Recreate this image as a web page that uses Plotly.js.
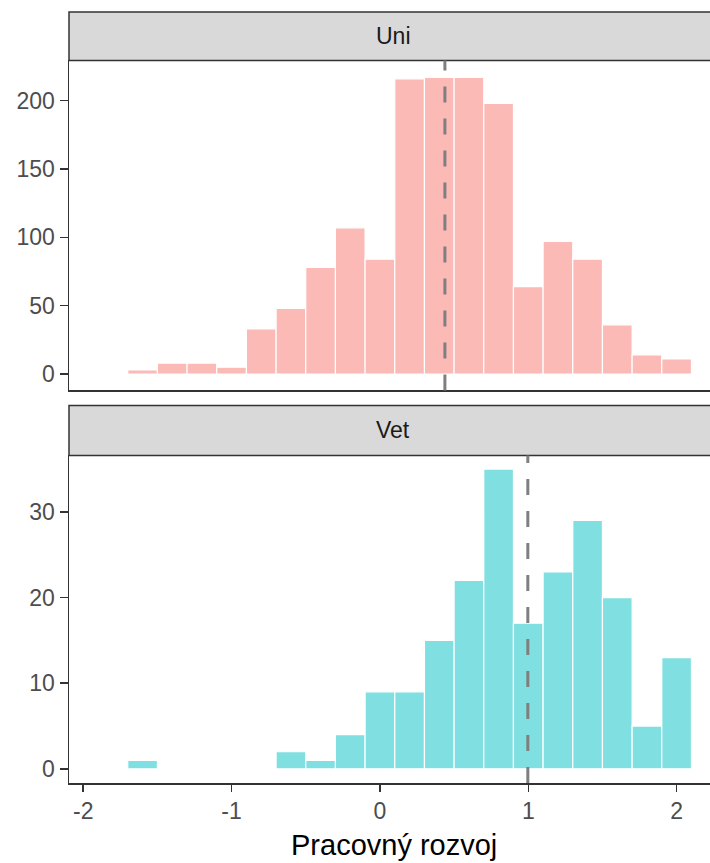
<!DOCTYPE html>
<html>
<head>
<meta charset="utf-8">
<script src="https://cdn.plot.ly/plotly-3.0.1.min.js"></script>
<style>html,body{margin:0;padding:0;background:#fff;overflow:hidden;}</style>
</head>
<body>
<div id="chart" style="width:710px;height:863px;"></div>
<script>
// Bin centres (bin width 0.2)
const binCenters = [-1.6, -1.4, -1.2, -1.0, -0.8, -0.6, -0.4, -0.2, 0.0, 0.2, 0.4, 0.6, 0.8, 1.0, 1.2, 1.4, 1.6, 1.8, 2.0];
const uniCounts = [3, 8, 8, 5, 33, 48, 78, 107, 84, 216, 217, 217, 198, 64, 97, 84, 36, 14, 11];
const vetCounts = [1, 0, 0, 0, 0, 2, 1, 4, 9, 9, 15, 22, 35, 17, 23, 29, 20, 5, 13];
const panelNames = ["Uni", "Vet"];
const meanUni = 0.438;
const meanVet = 0.997;
const xTickVals = [-2, -1, 0, 1, 2];
const xTickText = ["-2", "-1", "0", "1", "2"];
const uniTickVals = [0, 50, 100, 150, 200];
const vetTickVals = [0, 10, 20, 30];
const xTitle = "Pracovný rozvoj";

const W = 710, H = 863;
const mL = 69, mR = 0, mT = 12.3, mB = 79.7;
const plotH = H - mT - mB;
const py = (px) => (H - mB - px) / plotH;
const px2paper = (px) => (px - mL) / (W - mL - mR);

const font = "Liberation Sans, Arial, sans-serif";
const axisCol = "#333333";
const tickSize = 23;

const traces = [
  {
    type: "bar", x: binCenters, y: uniCounts, width: 0.2,
    xaxis: "x2", yaxis: "y2",
    marker: {color: "rgba(248,118,109,0.5)", line: {color: "#ffffff", width: 1.2}},
    hoverinfo: "x+y", showlegend: false
  },
  {
    type: "bar", x: binCenters, y: vetCounts, width: 0.2,
    xaxis: "x", yaxis: "y",
    marker: {color: "rgba(0,191,196,0.5)", line: {color: "#ffffff", width: 1.2}},
    hoverinfo: "x+y", showlegend: false
  }
];

const xr = [-2.096, 2.225];
const yAxisCommon = {
  showline: true, linecolor: axisCol, linewidth: 1.5, mirror: false,
  ticks: "outside", ticklen: 8, tickwidth: 1.5, tickcolor: axisCol,
  showgrid: false, zeroline: false,
  tickfont: {family: font, size: tickSize, color: "#4D4D4D"}
};

const layout = {
  width: W, height: H,
  margin: {l: mL, r: mR, t: mT, b: mB},
  paper_bgcolor: "#ffffff", plot_bgcolor: "#ffffff",
  bargap: 0,
  showlegend: false,
  xaxis: {
    domain: [0, 1], anchor: "y", range: xr,
    tickvals: xTickVals, ticktext: xTickText,
    showline: true, linecolor: axisCol, linewidth: 1.5,
    ticks: "outside", ticklen: 7, tickwidth: 1.5, tickcolor: axisCol,
    showgrid: false, zeroline: false,
    tickfont: {family: font, size: tickSize, color: "#4D4D4D"}
  },
  xaxis2: {
    domain: [0, 1], anchor: "y2", range: xr, matches: "x",
    showticklabels: false, ticks: "",
    showline: true, linecolor: axisCol, linewidth: 1.5,
    showgrid: false, zeroline: false
  },
  yaxis: Object.assign({}, yAxisCommon, {
    domain: [0, py(455.7)], anchor: "x", range: [-1.65, 36.6],
    tickvals: vetTickVals
  }),
  yaxis2: Object.assign({}, yAxisCommon, {
    domain: [py(390.7), py(60.7)], anchor: "x2", range: [-12, 229.5],
    tickvals: uniTickVals
  }),
  shapes: [
    // strips
    {type: "rect", xref: "paper", yref: "paper", x0: 0, x1: 1.05, y0: py(60.7), y1: py(12.3),
     fillcolor: "#D9D9D9", line: {color: axisCol, width: 1.5}, layer: "below"},
    {type: "rect", xref: "paper", yref: "paper", x0: 0, x1: 1.05, y0: py(455.7), y1: py(405.7),
     fillcolor: "#D9D9D9", line: {color: axisCol, width: 1.5}, layer: "below"},
    // mean lines
    {type: "line", xref: "x2", yref: "y2 domain", x0: meanUni, x1: meanUni, y0: 0, y1: 1,
     line: {color: "#7F7F7F", width: 3, dash: "16px,16px"}},
    {type: "line", xref: "x", yref: "y domain", x0: meanVet, x1: meanVet, y0: 0, y1: 1,
     line: {color: "#7F7F7F", width: 3, dash: "16px,16px"}}
  ],
  annotations: [
    {text: panelNames[0], xref: "paper", yref: "paper", x: px2paper(393), y: py(36.5),
     xanchor: "center", yanchor: "middle", showarrow: false,
     font: {family: font, size: tickSize, color: "#1A1A1A"}},
    {text: panelNames[1], xref: "paper", yref: "paper", x: px2paper(393), y: py(430.7),
     xanchor: "center", yanchor: "middle", showarrow: false,
     font: {family: font, size: tickSize, color: "#1A1A1A"}},
    {text: xTitle, xref: "paper", yref: "paper", x: px2paper(394), y: py(845),
     xanchor: "center", yanchor: "middle", showarrow: false,
     font: {family: font, size: 29, color: "#000000"}}
  ]
};

Plotly.newPlot("chart", traces, layout, {displayModeBar: false, staticPlot: true});
</script>
</body>
</html>
